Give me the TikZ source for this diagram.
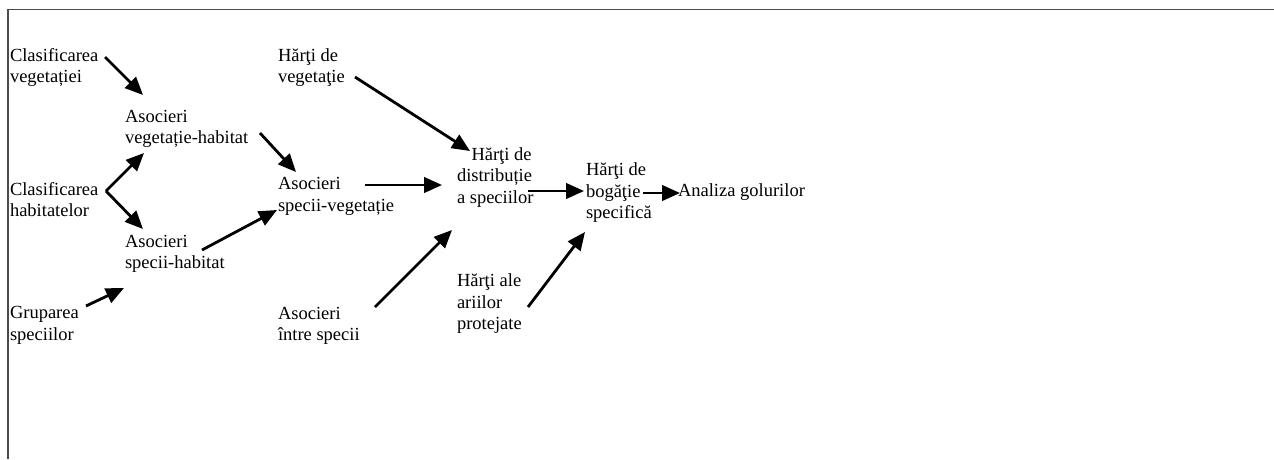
\documentclass[tikz,border=0pt]{standalone}
\usepackage{fontspec}
\setmainfont{Liberation Serif}
\usetikzlibrary{arrows.meta}
\begin{document}
\begin{tikzpicture}[x=1pt,y=-1pt,
  lbl/.style={anchor=north west,inner sep=0pt,outer sep=0pt,align=left,
    font=\fontsize{18.5}{21.5}\selectfont},
  flow/.style={line width=2.8pt,-{Triangle[length=18pt,width=15.5pt]}},
  frameline/.style={draw={rgb,255:red,75;green,75;blue,75},line width=1.6pt}]
\useasboundingbox (0,0) rectangle (1274,459);
% open frame: top and left edges
\draw[frameline] (8,459) -- (8,9.5) -- (1274,9.5);

% labels (y = first baseline - strut height)
\node[lbl] (cv)  at (10,46)    {\strut Clasificarea\\vegetației};
\node[lbl] (avh) at (125,107)  {\strut Asocieri\\vegetație-habitat};
\node[lbl] (ch)  at (10,180)   {\strut Clasificarea\\habitatelor};
\node[lbl] (sh)  at (125,232)  {\strut Asocieri\\specii-habitat};
\node[lbl] (gs)  at (10,303.5) {\strut Gruparea\\speciilor};
\node[lbl] (hv)  at (278,46)   {\strut Hărţi de\\vegetaţie};
\node[lbl] (sv)  at (278,174.5){\strut Asocieri\\specii-vegetație};
\node[lbl] (is)  at (278,304)  {\strut Asocieri\\între specii};
\node[lbl] (hd)  at (457,145)  {\strut\hspace*{14.5pt}Hărţi de\\distribuție\\a speciilor};
\node[lbl] (hp)  at (457,271.5){\strut Hărţi ale\\ariilor\\protejate};
\node[lbl] (hb)  at (586,160.5){\strut Hărţi de\\bogăţie\\specifică};
\node[lbl] (an)  at (678,181.7){\strut Analiza golurilor};

% connector end points
\coordinate (cv-o)  at (105,57);   \coordinate (avh-i1) at (143,95);
\coordinate (ch-o)  at (106,191);  \coordinate (avh-i2) at (144,153);
\coordinate (sh-i1) at (143,229);
\coordinate (avh-o) at (260,133);  \coordinate (sv-i1)  at (296,172);
\coordinate (sh-o)  at (202,250);  \coordinate (sv-i2)  at (277,210);
\coordinate (gs-o)  at (86,306);   \coordinate (sh-i2)  at (124,288);
\coordinate (hv-o)  at (355,77);   \coordinate (hd-i1)  at (470,151);
\coordinate (sv-o)  at (365,185);  \coordinate (hd-i2)  at (442,185);
\coordinate (is-o)  at (375,307);  \coordinate (hd-i3)  at (452,230);
\coordinate (hd-o)  at (528,191);  \coordinate (hb-i1)  at (584,191);
\coordinate (hp-o)  at (528,307);  \coordinate (hb-i2)  at (585,232);
\coordinate (hb-o)  at (643,193);  \coordinate (an-i)   at (680,193);

% connectors
\draw[flow] (cv-o) -- (avh-i1);
\draw[flow] (ch-o) -- (avh-i2);
\draw[flow] (ch-o) -- (sh-i1);
\draw[flow] (avh-o) -- (sv-i1);
\draw[flow] (sh-o) -- (sv-i2);
\draw[flow] (gs-o) -- (sh-i2);
\draw[flow] (hv-o) -- (hd-i1);
\draw[flow] (sv-o) -- (hd-i2);
\draw[flow] (is-o) -- (hd-i3);
\draw[flow] (hd-o) -- (hb-i1);
\draw[flow] (hp-o) -- (hb-i2);
\draw[flow] (hb-o) -- (an-i);
\end{tikzpicture}
\end{document}
